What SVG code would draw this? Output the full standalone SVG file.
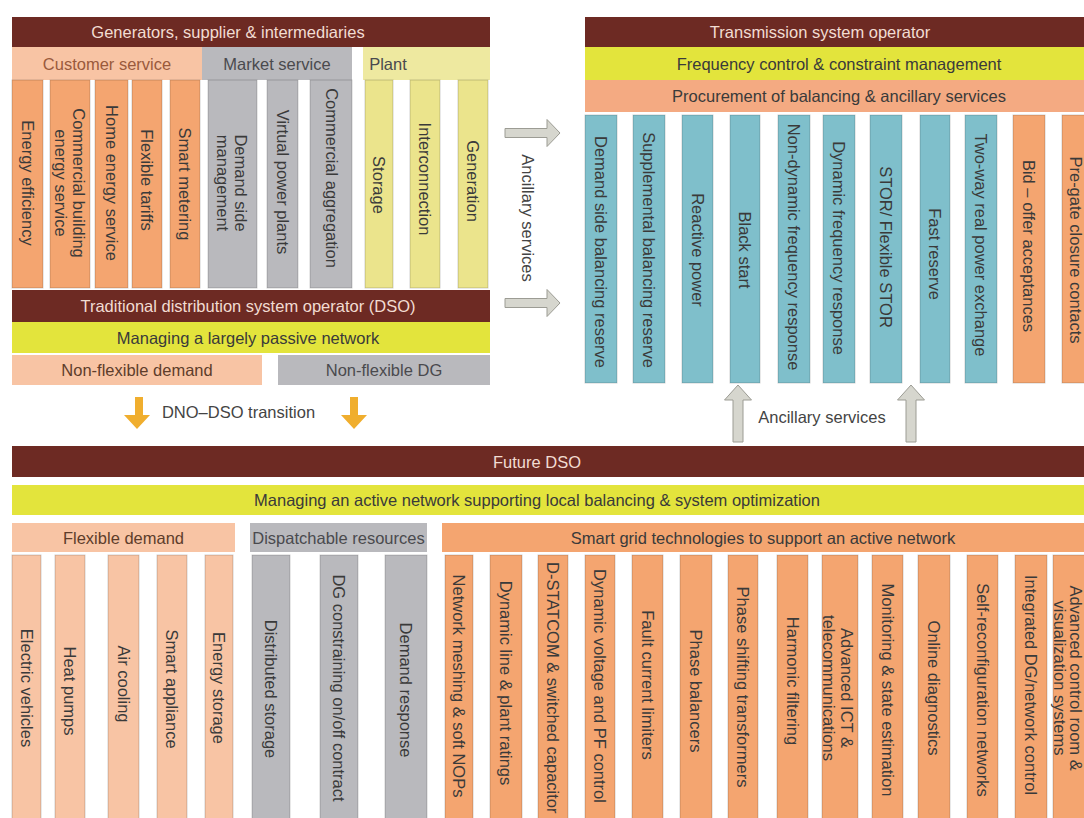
<svg xmlns="http://www.w3.org/2000/svg" width="1084" height="818" viewBox="0 0 1084 818">
  <style>
    text { font-family: "Liberation Sans", Arial, Helvetica, sans-serif; font-size: 16.5px; fill: #3a3a3a; text-anchor: middle; }
    .bar-dark { fill: #6d2a23; }
    .bar-dark-t { fill: #f2dcd2; }
    .bar-yel { fill: #e3e43c; }
    .salmon { fill: #f8c4a4; }
    .orange { fill: #f4a570; }
    .proc { fill: #f4aa82; }
    .gray { fill: #b9b9bd; }
    .pale { fill: #ebe48c; }
    .pale-hd { fill: #eee9a0; }
    .blue { fill: #7fbfcb; }
    .col { stroke: rgba(0,0,0,0.18); stroke-width: 1; }
    .hd-brown { fill: #9a5a3c; }
    .hd-dark-brown { fill: #5e3d2b; }
    .hd-gray { fill: #4a4a4e; }
    .arrow-gray { fill: #d6d6ce; stroke: #9c9c94; stroke-width: 1; }
    .arrow-orange { fill: #f0ae2e; }
    .note { fill: #444; }
  </style>

  <rect width="1084" height="818" fill="#ffffff"/>

  <!-- ===== Traditional arrangement: generators, suppliers & intermediaries ===== -->
  <g id="generators">
    <rect class="bar-dark" x="12" y="17" width="478" height="30"/>
    <text class="bar-dark-t" x="228" y="38">Generators, supplier &amp; intermediaries</text>
  </g>

  <g id="customer-service">
    <rect class="salmon" x="12" y="47" width="190" height="33"/>
    <text class="hd-brown" x="107" y="69.5">Customer service</text>
    <rect class="orange col" x="12" y="80" width="31" height="208"/>
    <text transform="translate(27.5,183) rotate(90)" y="6">Energy efficiency</text>
    <rect class="orange col" x="50" y="80" width="40" height="208"/>
    <text transform="translate(70,183) rotate(90)" y="-3">Commercial building</text>
    <text transform="translate(70,183) rotate(90)" y="15">energy service</text>
    <rect class="orange col" x="95" y="80" width="33" height="208"/>
    <text transform="translate(111.5,183) rotate(90)" y="6">Home energy service</text>
    <rect class="orange col" x="132" y="80" width="30" height="208"/>
    <text transform="translate(147,180) rotate(90)" y="6">Flexible tariffs</text>
    <rect class="orange col" x="170" y="80" width="30" height="208"/>
    <text transform="translate(185,184) rotate(90)" y="6">Smart metering</text>
  </g>

  <g id="market-service">
    <rect class="gray" x="202" y="47" width="150" height="33"/>
    <text class="hd-gray" x="277" y="69.5">Market service</text>
    <rect class="gray col" x="208" y="80" width="49" height="208"/>
    <text transform="translate(232,183) rotate(90)" y="-3">Demand side</text>
    <text transform="translate(232,183) rotate(90)" y="15">management</text>
    <rect class="gray col" x="267" y="80" width="31" height="208"/>
    <text transform="translate(282.5,182) rotate(90)" y="6">Virtual power plants</text>
    <rect class="gray col" x="310" y="80" width="42" height="208"/>
    <text transform="translate(332,178) rotate(90)" y="6">Commercial aggregation</text>
  </g>

  <g id="plant">
    <rect class="pale-hd" x="363" y="47" width="127" height="33"/>
    <text class="hd-gray" x="388" y="69.5">Plant</text>
    <rect class="pale col" x="365" y="80" width="28" height="208"/>
    <text transform="translate(379,185) rotate(90)" y="6">Storage</text>
    <rect class="pale col" x="410" y="80" width="30" height="208"/>
    <text transform="translate(425,179) rotate(90)" y="6">Interconnection</text>
    <rect class="pale col" x="458" y="80" width="30" height="208"/>
    <text transform="translate(473,181) rotate(90)" y="6">Generation</text>
  </g>

  <g id="traditional-dso">
    <rect class="bar-dark" x="12" y="290" width="478" height="32"/>
    <text class="bar-dark-t" x="248" y="312">Traditional distribution system operator (DSO)</text>
    <rect class="bar-yel" x="12" y="322" width="478" height="31"/>
    <text x="248" y="343.5">Managing a largely passive network</text>
  </g>

  <g id="non-flexible-demand">
    <rect class="salmon" x="12" y="355" width="250" height="30"/>
    <text class="hd-dark-brown" x="137" y="376">Non-flexible demand</text>
  </g>

  <g id="non-flexible-dg">
    <rect class="gray" x="278" y="355" width="212" height="30"/>
    <text class="hd-gray" x="384" y="376">Non-flexible DG</text>
  </g>

  <!-- ===== Transmission system operator ===== -->
  <g id="tso">
    <rect class="bar-dark" x="585" y="17" width="499" height="30"/>
    <text class="bar-dark-t" x="820" y="38">Transmission system operator</text>
    <rect class="bar-yel" x="585" y="47" width="499" height="33"/>
    <text x="839" y="69.5">Frequency control &amp; constraint management</text>
    <rect class="proc" x="585" y="80" width="499" height="32"/>
    <text x="839" y="102">Procurement of balancing &amp; ancillary services</text>
  </g>

  <g id="tso-services">
    <rect class="blue col" x="585" y="115" width="32" height="268"/>
    <text transform="translate(601,252) rotate(90)" y="6">Demand side balancing reserve</text>
    <rect class="blue col" x="633" y="115" width="32" height="268"/>
    <text transform="translate(649,250) rotate(90)" y="6">Supplemental balancing reserve</text>
    <rect class="blue col" x="682" y="115" width="31" height="268"/>
    <text transform="translate(697.5,250) rotate(90)" y="6">Reactive power</text>
    <rect class="blue col" x="730" y="115" width="30" height="268"/>
    <text transform="translate(745,250) rotate(90)" y="6">Black start</text>
    <rect class="blue col" x="778" y="115" width="32" height="268"/>
    <text transform="translate(794,247) rotate(90)" y="6">Non-dynamic frequency response</text>
    <rect class="blue col" x="823" y="115" width="32" height="268"/>
    <text transform="translate(839,248) rotate(90)" y="6">Dynamic frequency response</text>
    <rect class="blue col" x="870" y="115" width="32" height="268"/>
    <text transform="translate(886,247) rotate(90)" y="6">STOR/ Flexible STOR</text>
    <rect class="blue col" x="920" y="115" width="30" height="268"/>
    <text transform="translate(935,254) rotate(90)" y="6">Fast reserve</text>
    <rect class="blue col" x="965" y="115" width="32" height="268"/>
    <text transform="translate(981,245) rotate(90)" y="6">Two-way real power exchange</text>
    <rect class="orange col" x="1013" y="115" width="32" height="268"/>
    <text transform="translate(1029,246) rotate(90)" y="6">Bid – offer acceptances</text>
    <rect class="orange col" x="1062" y="115" width="30" height="268"/>
    <text transform="translate(1076,250) rotate(90)" y="6">Pre-gate closure contacts</text>
  </g>

  <!-- ===== Future DSO ===== -->
  <g id="future-dso">
    <rect class="bar-dark" x="12" y="446" width="1072" height="31"/>
    <text class="bar-dark-t" x="537" y="467.5" font-size="15">Future DSO</text>
    <rect class="bar-yel" x="12" y="485" width="1072" height="30"/>
    <text x="537" y="505.5" font-size="15">Managing an active network supporting local balancing &amp; system optimization</text>
  </g>

  <g id="flexible-demand">
    <rect class="salmon" x="12" y="523" width="223" height="29"/>
    <text class="hd-dark-brown" x="123.5" y="543.5">Flexible demand</text>
    <rect class="salmon col" x="12" y="555" width="29" height="270"/>
    <text transform="translate(26.5,688) rotate(90)" y="6">Electric vehicles</text>
    <rect class="salmon col" x="55" y="555" width="30" height="270"/>
    <text transform="translate(70,691) rotate(90)" y="6">Heat pumps</text>
    <rect class="salmon col" x="108" y="555" width="31" height="270"/>
    <text transform="translate(123.5,684) rotate(90)" y="6">Air cooling</text>
    <rect class="salmon col" x="157" y="555" width="30" height="270"/>
    <text transform="translate(172,689) rotate(90)" y="6">Smart appliance</text>
    <rect class="salmon col" x="205" y="555" width="28" height="270"/>
    <text transform="translate(219,688) rotate(90)" y="6">Energy storage</text>
  </g>

  <g id="dispatchable-resources">
    <rect class="gray" x="250" y="523" width="177" height="29"/>
    <text class="hd-gray" x="338.5" y="543.5">Dispatchable resources</text>
    <rect class="gray col" x="252" y="555" width="38" height="270"/>
    <text transform="translate(271,689) rotate(90)" y="6">Distributed storage</text>
    <rect class="gray col" x="320" y="555" width="38" height="270"/>
    <text transform="translate(339,688) rotate(90)" y="6">DG constraining on/off contract</text>
    <rect class="gray col" x="385" y="555" width="42" height="270"/>
    <text transform="translate(406,690) rotate(90)" y="6">Demand response</text>
  </g>

  <g id="smart-grid">
    <rect class="orange" x="442" y="523" width="642" height="29"/>
    <text x="763" y="543.5">Smart grid technologies to support an active network</text>
    <rect class="orange col" x="445" y="555" width="28" height="270"/>
    <text transform="translate(459,686) rotate(90)" y="6">Network meshing &amp; soft NOPs</text>
    <rect class="orange col" x="490" y="555" width="32" height="270"/>
    <text transform="translate(506,683) rotate(90)" y="6">Dynamic line &amp; plant ratings</text>
    <rect class="orange col" x="538" y="555" width="30" height="270"/>
    <text transform="translate(553,562) rotate(90)" y="6" style="text-anchor:start">D-STATCOM &amp; switched capacitor</text>
    <rect class="orange col" x="585" y="555" width="30" height="270"/>
    <text transform="translate(600,686) rotate(90)" y="6">Dynamic voltage and PF control</text>
    <rect class="orange col" x="632" y="555" width="31" height="270"/>
    <text transform="translate(647.5,685) rotate(90)" y="6">Fault current limiters</text>
    <rect class="orange col" x="680" y="555" width="32" height="270"/>
    <text transform="translate(696,691) rotate(90)" y="6">Phase balancers</text>
    <rect class="orange col" x="728" y="555" width="30" height="270"/>
    <text transform="translate(743,687) rotate(90)" y="6">Phase shifting transformers</text>
    <rect class="orange col" x="777" y="555" width="31" height="270"/>
    <text transform="translate(792.5,681) rotate(90)" y="6">Harmonic filtering</text>
    <rect class="orange col" x="822" y="555" width="36" height="270"/>
    <text transform="translate(838,688) rotate(90)" y="-3">Advanced ICT &amp;</text>
    <text transform="translate(838,688) rotate(90)" y="15">telecommunications</text>
    <rect class="orange col" x="872" y="555" width="31" height="270"/>
    <text transform="translate(887.5,690) rotate(90)" y="6">Monitoring &amp; state estimation</text>
    <rect class="orange col" x="918" y="555" width="32" height="270"/>
    <text transform="translate(934,688) rotate(90)" y="6">Online diagnostics</text>
    <rect class="orange col" x="967" y="555" width="31" height="270"/>
    <text transform="translate(982.5,690) rotate(90)" y="6">Self-reconfiguration networks</text>
    <rect class="orange col" x="1015" y="555" width="32" height="270"/>
    <text transform="translate(1031,685) rotate(90)" y="6">Integrated DG/network control</text>
    <rect class="orange col" x="1053" y="555" width="40" height="270"/>
    <text transform="translate(1068,678) rotate(90)" y="-2" font-size="15">Advanced control room &amp;</text>
    <text transform="translate(1068,678) rotate(90)" y="14" font-size="15">visualization systems</text>
  </g>

  <!-- ===== Connectors ===== -->
  <g id="connectors">
    <!-- ancillary services flowing to the TSO -->
    <path class="arrow-gray" d="M505,128.5 H547 V119.5 L560,133 L547,146.5 V137.5 H505 Z"/>
    <path class="arrow-gray" d="M505,298.5 H547 V289.5 L560,303 L547,316.5 V307.5 H505 Z"/>
    <text class="note" transform="translate(528,218) rotate(90)" y="6">Ancillary services</text>

    <!-- DNO to DSO transition -->
    <path class="arrow-orange" d="M135,397 H143 V415 H150 L137,429 L124,415 H135 Z"/>
    <path class="arrow-orange" d="M350,397 H358 V415 H367 L354,429 L341,415 H350 Z"/>
    <text class="note" x="238.5" y="418">DNO–DSO transition</text>

    <!-- ancillary services from the future DSO -->
    <path class="arrow-gray" d="M733,442 V400 H724.5 L738,385 L751.5,400 H743 V442 Z"/>
    <path class="arrow-gray" d="M906,442 V400 H897.5 L911,385 L924.5,400 H916 V442 Z"/>
    <text class="note" x="822" y="423">Ancillary services</text>
  </g>
</svg>
